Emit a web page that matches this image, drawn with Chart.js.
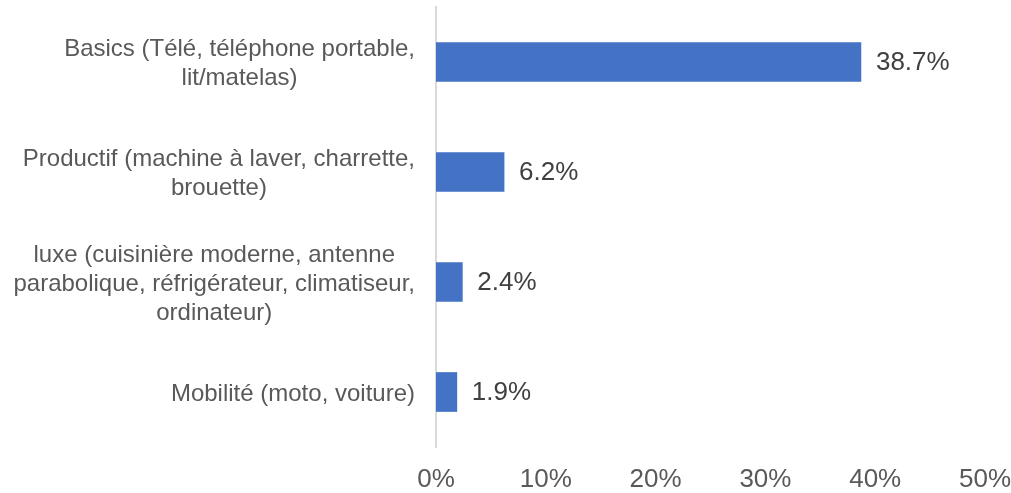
<!DOCTYPE html>
<html>
<head>
<meta charset="utf-8">
<script src="https://cdn.jsdelivr.net/npm/chart.js@4.4.0/dist/chart.umd.min.js"></script>
<style>
  html, body { margin: 0; padding: 0; background: #fff; }
  #wrap { width: 1011px; height: 493px; position: relative; }
</style>
</head>
<body>
<div id="wrap"><canvas id="chart"></canvas></div>
<script>
// catégories (lignes multiples) et valeurs en %
const categories = [
  ['Basics (Télé, téléphone portable,', 'lit/matelas)'],
  ['Productif (machine à laver, charrette,', 'brouette)'],
  ['luxe (cuisinière moderne, antenne', 'parabolique, réfrigérateur, climatiseur,', 'ordinateur)'],
  ['Mobilité (moto, voiture)']
];
const values = [38.7, 6.2, 2.4, 1.9];
const tickLabels = ['0%', '10%', '20%', '30%', '40%', '50%'];

const FONT = '"Liberation Sans", Arial, sans-serif';

// étiquettes de valeur à droite des barres
const valueLabels = {
  id: 'valueLabels',
  afterDatasetsDraw(chart) {
    const {ctx} = chart;
    const meta = chart.getDatasetMeta(0);
    ctx.save();
    ctx.font = '26px ' + FONT;
    ctx.fillStyle = '#404040';
    ctx.textAlign = 'left';
    ctx.textBaseline = 'middle';
    meta.data.forEach((bar, i) => {
      ctx.fillText(values[i].toFixed(1) + '%', bar.x + 15, bar.y + 1);
    });
    ctx.restore();
  }
};

// libellés des catégories : bloc aligné à droite, lignes centrées (comme Excel)
const categoryLabels = {
  id: 'categoryLabels',
  afterDraw(chart) {
    const {ctx} = chart;
    const yScale = chart.scales.y;
    const right = yScale.right - 21;
    const lineH = 29;
    ctx.save();
    ctx.font = '24px ' + FONT;
    ctx.fillStyle = '#595959';
    ctx.textAlign = 'center';
    ctx.textBaseline = 'middle';
    categories.forEach((lines, i) => {
      const y = yScale.getPixelForTick(i) + 2;
      const w = Math.max(...lines.map(l => ctx.measureText(l).width));
      const cx = right - w / 2;
      lines.forEach((l, j) => {
        ctx.fillText(l, cx, y + (j - (lines.length - 1) / 2) * lineH);
      });
    });
    ctx.restore();
  }
};

new Chart(document.getElementById('chart'), {
  type: 'bar',
  data: {
    labels: categories,
    datasets: [{
      data: values,
      backgroundColor: '#4472C4',
      barThickness: 39
    }]
  },
  options: {
    indexAxis: 'y',
    responsive: true,
    maintainAspectRatio: false,
    animation: false,
    layout: { padding: { top: 7, right: 26, left: 0, bottom: 0 } },
    plugins: {
      legend: { display: false },
      tooltip: { enabled: false }
    },
    scales: {
      x: {
        min: 0,
        max: 50,
        ticks: {
          stepSize: 10,
          padding: 17,
          color: '#595959',
          font: { family: FONT, size: 26 },
          callback: (v, i) => tickLabels[i]
        },
        grid: { display: false, drawTicks: false },
        border: { display: false },
        afterFit(scale) {
          scale.height = 46;
          scale.paddingLeft = 0;
          scale.paddingRight = 0;
        }
      },
      y: {
        ticks: { display: false },
        grid: { display: false, drawTicks: false },
        border: { display: true, color: '#d9d9d9', width: 2 },
        afterFit(scale) {
          scale.width = 436;
          scale.paddingTop = 0;
          scale.paddingBottom = 0;
        }
      }
    }
  },
  plugins: [valueLabels, categoryLabels]
});
</script>
</body>
</html>
